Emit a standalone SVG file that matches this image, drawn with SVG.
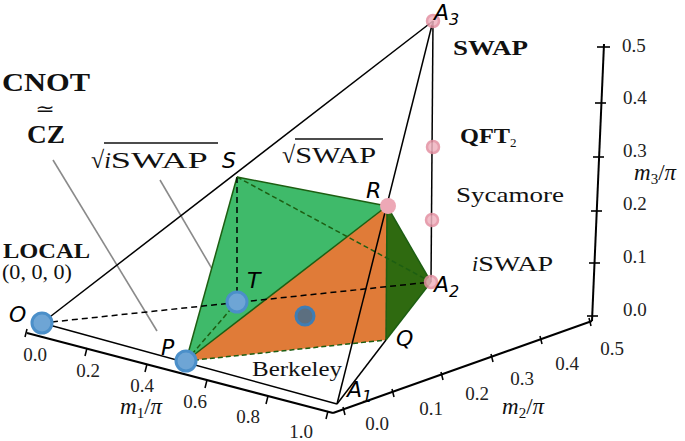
<svg xmlns="http://www.w3.org/2000/svg" width="685" height="441" viewBox="0 0 685 441">
<style>
.ax{stroke:#000;stroke-width:2;fill:none}
.tk{stroke:#000;stroke-width:1.6}
.ln{stroke:#000;stroke-width:1.5;fill:none}
.dk{stroke:#000;stroke-width:1.5;stroke-dasharray:6 4;fill:none}
.dg{stroke:#1d5e12;stroke-width:1.5;stroke-dasharray:5 3;fill:none}
.ed{stroke:#1d5e12;stroke-width:1.5;fill:none}
.ld{stroke:#8a8a8a;stroke-width:1.6}
.blue{fill:#6ea5d5;stroke:#4b8fc9;stroke-width:3}
.pink{fill:#f0b3c0;stroke:#e390a2;stroke-width:2.5;opacity:.85}
.sr{font-family:"Liberation Serif","DejaVu Serif",serif;fill:#111}
.b{font-weight:bold}
.lab{font-family:"DejaVu Sans","Liberation Sans",sans-serif;font-style:italic;font-size:22px;fill:#000}
.num{font-family:"Liberation Serif","DejaVu Serif",serif;font-size:19px;fill:#222;text-anchor:middle}
</style>
<g id="axes">
<line class="ax" x1="27" y1="333" x2="333" y2="413"/>
<line class="ax" x1="333" y1="413" x2="592" y2="321"/>
<line class="ax" x1="592" y1="321" x2="604" y2="44"/>
<g class="tk">
<line x1="27" y1="329" x2="25" y2="337"/>
<line x1="87" y1="348" x2="85" y2="356"/>
<line x1="147" y1="364" x2="145" y2="372"/>
<line x1="207" y1="380" x2="205" y2="388"/>
<line x1="268" y1="396" x2="266" y2="404"/>
<line x1="328" y1="411" x2="326" y2="419"/>
<line x1="343" y1="407" x2="345" y2="415"/>
<line x1="392" y1="389" x2="394" y2="397"/>
<line x1="441" y1="372" x2="443" y2="380"/>
<line x1="491" y1="354" x2="493" y2="362"/>
<line x1="540" y1="336" x2="542" y2="344"/>
<line x1="589" y1="318" x2="591" y2="326"/>
<line x1="597" y1="47" x2="610" y2="47"/>
<line x1="595" y1="103" x2="606" y2="103"/>
<line x1="593" y1="157" x2="604" y2="157"/>
<line x1="591" y1="211" x2="602" y2="211"/>
<line x1="589" y1="263" x2="600" y2="263"/>
<line x1="587" y1="316" x2="598" y2="316"/>
</g>
<g class="num">
<text x="35" y="361">0.0</text>
<text x="88" y="377">0.2</text>
<text x="142" y="392">0.4</text>
<text x="195" y="408">0.6</text>
<text x="248" y="423">0.8</text>
<text x="301" y="438">1.0</text>
<text x="377" y="430">0.0</text>
<text x="431" y="415">0.1</text>
<text x="477" y="400">0.2</text>
<text x="522" y="385">0.3</text>
<text x="567" y="370">0.4</text>
<text x="612" y="355">0.5</text>
</g>
<g class="num" style="text-anchor:start">
<text x="622" y="52">0.5</text>
<text x="623" y="104">0.4</text>
<text x="623" y="157">0.3</text>
<text x="623" y="210">0.2</text>
<text x="623" y="263">0.1</text>
<text x="623" y="316">0.0</text>
</g>
<text class="sr" x="120" y="414" font-size="23"><tspan font-style="italic">m</tspan><tspan font-size="15" dy="4">1</tspan><tspan dy="-4">/</tspan><tspan font-style="italic">π</tspan></text>
<text class="sr" x="502" y="414" font-size="23"><tspan font-style="italic">m</tspan><tspan font-size="15" dy="4">2</tspan><tspan dy="-4">/</tspan><tspan font-style="italic">π</tspan></text>
<text class="sr" x="634" y="180" font-size="23"><tspan font-style="italic">m</tspan><tspan font-size="15" dy="4">3</tspan><tspan dy="-4">/</tspan><tspan font-style="italic">π</tspan></text>
</g>
<g id="leaders">
<line class="ld" x1="53" y1="160" x2="157" y2="331"/>
<line class="ld" x1="160" y1="180" x2="225" y2="291"/>
</g>
<g id="faces">
<polygon points="237,177 186,361 387,206" fill="#3fba6a"/>
<polygon points="186,361 387,206 386,340" fill="#e07b38"/>
<polygon points="387,206 431,282 386,340" fill="#2f6a10"/>
</g>
<g id="connectors">
<line class="ed" x1="237" y1="177" x2="186" y2="361"/>
<line class="ed" x1="237" y1="177" x2="387" y2="206"/>
<line class="ed" x1="186" y1="361" x2="387" y2="206"/>
<line class="ed" x1="387" y1="206" x2="386" y2="340"/>
<line class="ed" x1="387" y1="206" x2="431" y2="282"/>
<line class="ed" x1="431" y1="282" x2="386" y2="340"/>
<line class="dk" x1="237" y1="177" x2="237" y2="302"/>
<line class="dg" x1="237" y1="302" x2="186" y2="361"/>
<line class="dg" x1="237" y1="177" x2="431" y2="282"/>
<line class="dg" x1="186" y1="361" x2="386" y2="340"/>
<line class="dk" x1="42" y1="323" x2="431" y2="282"/>
<line class="ln" x1="42" y1="323" x2="433" y2="21"/>
<line class="ln" x1="433" y1="21" x2="431" y2="282"/>
<line class="ln" x1="433" y1="21" x2="337" y2="404"/>
<line class="ln" x1="42" y1="323" x2="337" y2="404"/>
<line class="ln" x1="386" y1="340" x2="337" y2="404"/>
</g>
<g id="node-O"><circle class="blue" cx="42" cy="323" r="10"/><text class="lab" x="9" y="322">O</text></g>
<g id="node-P"><circle class="blue" cx="186" cy="361" r="10"/><text class="lab" x="161" y="355">P</text></g>
<g id="node-T"><circle class="blue" cx="237" cy="302" r="10"/><text class="lab" x="247" y="288">T</text></g>
<g id="node-B"><circle cx="305" cy="316" r="9" fill="#5c6f80" stroke="#3e7db5" stroke-width="3"/></g>
<g id="node-S"><text class="lab" x="222" y="168">S</text></g>
<g id="node-R"><circle cx="388" cy="206" r="8" fill="#eda8b6"/><text class="lab" x="366" y="198">R</text></g>
<g id="node-Q"><text class="lab" x="396" y="346">Q</text></g>
<g id="node-A1"><text class="lab" x="347" y="397">A<tspan font-size="16" dy="5">1</tspan></text></g>
<g id="node-A2"><circle class="pink" cx="431" cy="282" r="6"/><text class="lab" x="434" y="292">A<tspan font-size="16" dy="5">2</tspan></text></g>
<g id="node-A3"><circle class="pink" cx="433" cy="21" r="6"/><text class="lab" x="434" y="20">A<tspan font-size="16" dy="5">3</tspan></text></g>
<g id="node-QFT"><circle class="pink" cx="433" cy="147" r="6"/></g>
<g id="node-Syc"><circle class="pink" cx="432" cy="220" r="6"/></g>
<g id="labels">
<text class="sr b" x="2" y="91" font-size="26" textLength="88" lengthAdjust="spacingAndGlyphs">CNOT</text>
<text x="45" y="115" font-size="18" text-anchor="middle" font-family="DejaVu Sans, sans-serif" fill="#111" transform="translate(45 0) scale(1.3 1) translate(-45 0)">≃</text>
<text class="sr b" x="27" y="143" font-size="26" textLength="38" lengthAdjust="spacingAndGlyphs">CZ</text>
<text class="sr b" x="3" y="258" font-size="20" textLength="87" lengthAdjust="spacingAndGlyphs">LOCAL</text>
<text class="sr" x="2" y="279" font-size="21" textLength="70" lengthAdjust="spacingAndGlyphs">(0, 0, 0)</text>
<text class="sr" x="91" y="168" font-size="24">√<tspan font-style="italic">i</tspan><tspan textLength="97" lengthAdjust="spacingAndGlyphs">SWAP</tspan></text>
<line x1="104" y1="143" x2="218" y2="143" stroke="#111" stroke-width="1.3"/>
<text class="sr" x="282" y="163" font-size="24">√<tspan textLength="81" lengthAdjust="spacingAndGlyphs">SWAP</tspan></text>
<line x1="295" y1="139" x2="383" y2="139" stroke="#111" stroke-width="1.3"/>
<text class="sr b" x="453" y="55" font-size="21" textLength="75" lengthAdjust="spacingAndGlyphs">SWAP</text>
<text class="sr b" x="460" y="143" font-size="21"><tspan textLength="50" lengthAdjust="spacingAndGlyphs">QFT</tspan><tspan font-size="13" dy="4" font-weight="normal">2</tspan></text>
<text class="sr" x="456" y="202" font-size="22" textLength="108" lengthAdjust="spacingAndGlyphs" fill="#1a2525">Sycamore</text>
<text class="sr" x="472" y="271" font-size="22"><tspan font-style="italic">i</tspan><tspan textLength="75" lengthAdjust="spacingAndGlyphs">SWAP</tspan></text>
<text class="sr" x="252" y="376" font-size="21" textLength="90" lengthAdjust="spacingAndGlyphs">Berkeley</text>
</g>
</svg>
